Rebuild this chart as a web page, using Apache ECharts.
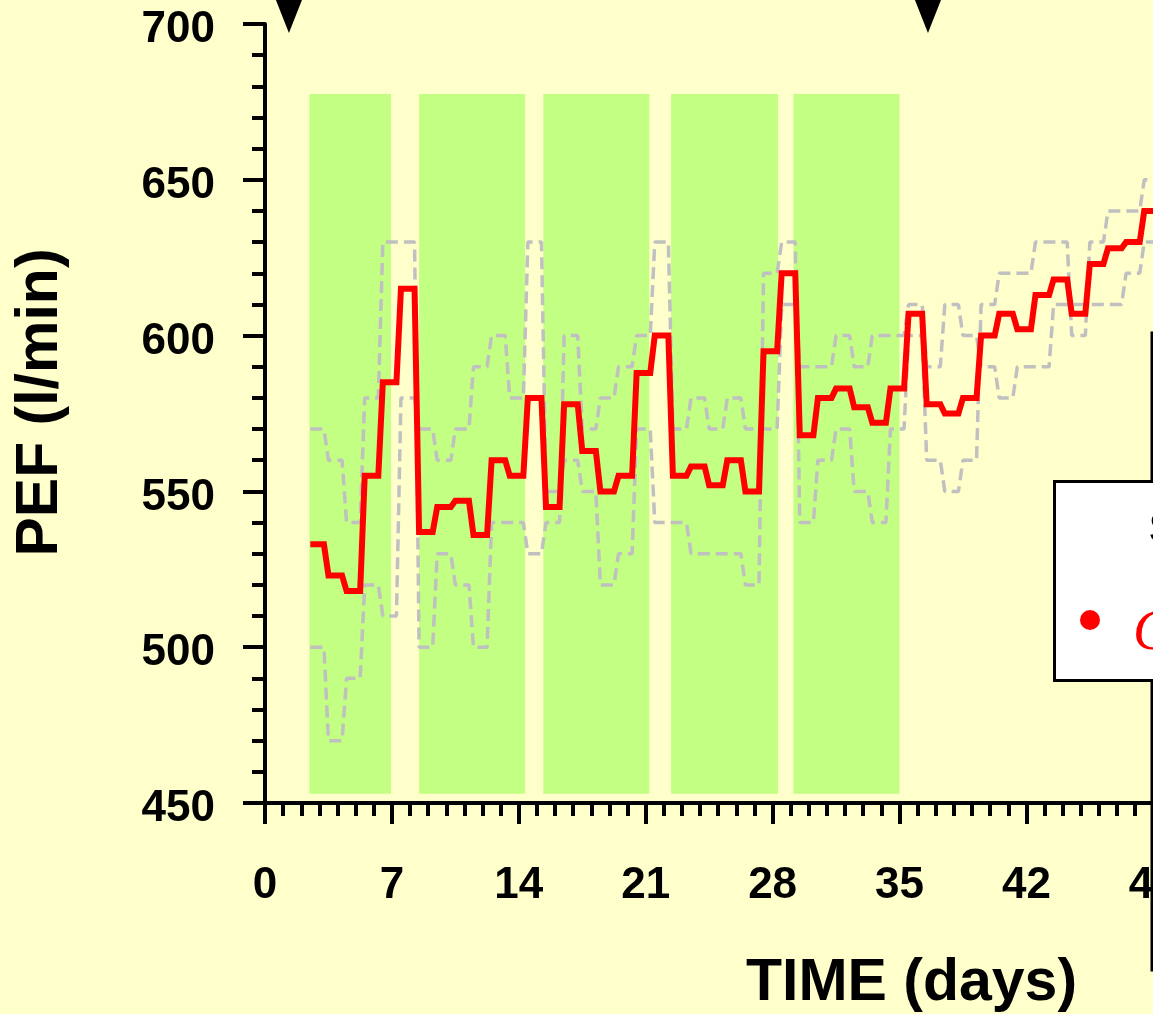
<!DOCTYPE html>
<html>
<head>
<meta charset="utf-8">
<script src="https://cdn.jsdelivr.net/npm/echarts@6/dist/echarts.min.js"></script>
<style>
html,body{margin:0;padding:0;background:#ffffcc;}
#chart{width:1153px;height:1014px;}
</style>
</head>
<body>
<div id="chart"></div>
<script>
// Day numbers of the daily readings
const days = [3,4,5,6,7,8,9,10,11,12,13,14,15,16,17,18,19,20,21,22,23,24,25,26,27,28,29,30,31,32,33,34,35,36,37,38,39,40,41,42,43,44,45,46,47,48,49];
// Daily mean PEF (red line)
const meanPEF = [533,523,518,555,585,615,537,545,547,536,560,555,580,545,578,563,550,555,588,600,555,558,552,560,550,595,620,568,580,583,577,572,583,607,578,575,580,600,607,602,613,618,607,623,628,630,640];
// Individual reading traces (grey dashed)
const traceA = [570,560,540,580,630,630,500,530,520,500,540,540,530,540,600,570,580,590,600,630,570,580,570,580,570,570,610,590,590,600,590,600,600,610,590,610,600,590,580,590,590,610,610,610,610,620,630];
const traceB = [500,470,490,520,510,580,570,560,570,590,600,580,630,550,560,550,520,530,570,540,540,530,530,530,520,620,630,540,560,570,550,540,570,600,560,550,560,610,620,620,630,630,600,630,640,640,650];
// Work periods (green bands), in days
const workStart = [2.45, 8.5, 15.35, 22.4, 29.15];
const workEnd = [6.95, 14.35, 21.2, 28.3, 35.0];
const workLow = 453;
const workHigh = 677.5;
// Event markers (black triangles), in days
const markerDays = [1.32, 36.57];
// Axis ticks
const xTicks = [0,7,14,21,28,35,42,49,56,63,70];
const yTicks = [450,500,550,600,650,700];

function plateau(vals) {
  const out = [];
  vals.forEach(function (v, i) {
    out.push([days[i] - 0.5, v]);
    out.push([days[i] + 0.25, v]);
  });
  return out;
}

const FONT = '"Liberation Sans", Arial, sans-serif';
const chart = echarts.init(document.getElementById('chart'), null, {renderer: 'canvas'});

const option = {
  animation: false,
  backgroundColor: '#ffffcc',
  grid: {left: 265, top: 24, right: -381, bottom: 211, containLabel: false, outerBoundsMode: 'none'},
  xAxis: {
    type: 'value',
    min: xTicks[0],
    max: xTicks[xTicks.length - 1],
    interval: xTicks[1] - xTicks[0],
    axisLine: {onZero: false, lineStyle: {color: '#000', width: 4}},
    axisTick: {length: 21, lineStyle: {color: '#000', width: 4}},
    minorTick: {show: true, splitNumber: 7, length: 13, lineStyle: {color: '#000', width: 4}},
    splitLine: {show: false},
    axisLabel: {margin: 61, fontSize: 44, fontWeight: 'bold', color: '#000', fontFamily: FONT},
    name: 'TIME (days)',
    nameLocation: 'middle',
    nameGap: 151,
    nameTextStyle: {fontSize: 59, fontWeight: 'bold', color: '#000', fontFamily: FONT, padding: [0, 0, 0, 24]}
  },
  yAxis: {
    type: 'value',
    min: yTicks[0],
    max: yTicks[yTicks.length - 1],
    interval: yTicks[1] - yTicks[0],
    axisLine: {show: true, onZero: false, lineStyle: {color: '#000', width: 4}},
    axisTick: {show: true, length: 22, lineStyle: {color: '#000', width: 4}},
    minorTick: {show: true, splitNumber: 5, length: 13, lineStyle: {color: '#000', width: 4}},
    splitLine: {show: false},
    axisLabel: {
      margin: 50,
      formatter: '{v|{value}}',
      rich: {v: {fontSize: 44, fontWeight: 'bold', color: '#000', fontFamily: FONT, padding: [12, 0, 0, 0]}}
    },
    name: 'PEF (l/min)',
    nameLocation: 'middle',
    nameRotate: 90,
    nameGap: 195,
    nameTextStyle: {fontSize: 59, fontWeight: 'bold', color: '#000', fontFamily: FONT, padding: [0, 0, 0, 22]}
  },
  series: [
    {
      type: 'line',
      data: [],
      z: 1,
      markArea: {
        silent: true,
        itemStyle: {color: '#c2ff82'},
        data: workStart.map(function (s, i) {
          return [{xAxis: s, yAxis: workLow}, {xAxis: workEnd[i], yAxis: workHigh}];
        })
      }
    },
    {
      type: 'line',
      data: plateau(traceA),
      symbol: 'none',
      z: 2,
      lineStyle: {color: '#c0c0c0', width: 3.5, type: [12, 6]}
    },
    {
      type: 'line',
      data: plateau(traceB),
      symbol: 'none',
      z: 2,
      lineStyle: {color: '#c0c0c0', width: 3.5, type: [12, 6]}
    },
    {
      type: 'line',
      data: plateau(meanPEF),
      symbol: 'none',
      z: 4,
      lineStyle: {color: '#ff0000', width: 6, join: 'miter'}
    },
    {
      type: 'scatter',
      data: markerDays.map(function (d) { return [d, yTicks[yTicks.length - 1]]; }),
      symbol: 'triangle',
      symbolRotate: 180,
      symbolSize: [30, 38],
      symbolOffset: [0, -10],
      clip: false,
      z: 5,
      itemStyle: {color: '#000', opacity: 1}
    }
  ],
  graphic: [
    {type: 'rect', z: 100, shape: {x: 1152, y: 333, width: 400, height: 637},
     style: {fill: 'rgba(0,0,0,0)', stroke: '#000', lineWidth: 3}},
    {type: 'rect', z: 101, shape: {x: 1054.5, y: 481.5, width: 300, height: 199},
     style: {fill: '#ffffff', stroke: '#000', lineWidth: 3}},
    {type: 'text', z: 102, x: 1149, y: 531,
     style: {text: 'Serial PEF', fill: '#000', font: 'bold 44px "Liberation Sans", Arial, sans-serif', verticalAlign: 'middle', align: 'left'}},
    {type: 'circle', z: 102, shape: {cx: 1090, cy: 620, r: 10}, style: {fill: '#ff0000'}},
    {type: 'text', z: 102, x: 1133, y: 634,
     style: {text: 'Control', fill: '#ff0000', font: 'italic 56px "Liberation Serif", "Times New Roman", serif', verticalAlign: 'middle', align: 'left'}}
  ]
};
chart.setOption(option);
</script>
</body>
</html>
